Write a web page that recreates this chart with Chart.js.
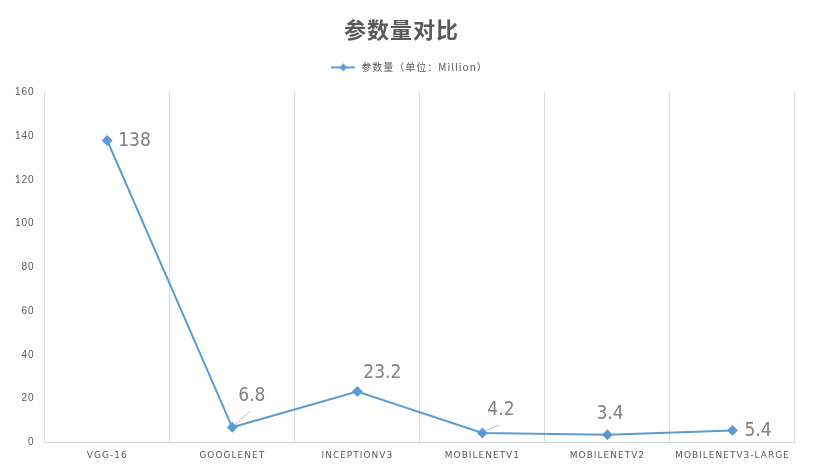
<!DOCTYPE html>
<html>
<head>
<meta charset="utf-8">
<script src="https://cdn.jsdelivr.net/npm/chart.js@4"></script>
<style>
  html, body { margin: 0; padding: 0; background: #fff; }
  #wrap { width: 813px; height: 469px; }
</style>
</head>
<body>
<div id="wrap"><canvas id="paramChart"></canvas></div>
<script>
// data
var models = ['VGG-16', 'GOOGLENET', 'INCEPTIONV3', 'MOBILENETV1', 'MOBILENETV2', 'MOBILENETV3-LARGE'];
var paramCounts = [138, 6.8, 23.2, 4.2, 3.4, 5.4];
var yTicks = [0, 20, 40, 60, 80, 100, 120, 140, 160];

var seriesName = '参数量（单位：Million）';
var lineColor = '#5B9BD5';
var textColor = '#595959';

// where each value label sits relative to its point (dx, dy, leader line)
var labelPlace = [
    {dx: 11, dy: 1, leader: false},
    {dx: 6, dy: -31, leader: true},
    {dx: 6, dy: -18, leader: false},
    {dx: 5, dy: -23, leader: true},
    {dx: -11, dy: -21, leader: false},
    {dx: 12, dy: 1, leader: false}
];

// legend icon: short line with a diamond
function legendIcon() {
    var c = document.createElement('canvas');
    c.width = 24; c.height = 10;
    var g = c.getContext('2d');
    g.strokeStyle = lineColor;
    g.lineWidth = 2;
    g.beginPath();
    g.moveTo(0, 5); g.lineTo(24, 5);
    g.stroke();
    g.fillStyle = lineColor;
    g.beginPath();
    g.moveTo(12, 1); g.lineTo(16, 5); g.lineTo(12, 9); g.lineTo(8, 5);
    g.closePath();
    g.fill();
    return c;
}
var icon = legendIcon();

var spacing = {
    id: 'spacing',
    beforeInit: function (chart) {
        var fit = chart.legend.fit;
        chart.legend.fit = function () {
            fit.call(this);
            this.height += 10;
        };
    },
    beforeDraw: function (chart) {
        chart.ctx.letterSpacing = '1px';
    },
    beforeDatasetsDraw: function (chart) {
        chart.ctx.letterSpacing = '0px';
    }
};

var valueLabels = {
    id: 'valueLabels',
    afterDatasetsDraw: function (chart) {
        var ctx = chart.ctx;
        var meta = chart.getDatasetMeta(0);
        ctx.save();
        ctx.letterSpacing = '0px';
        ctx.font = '19px "DejaVu Sans Condensed", "Liberation Sans Narrow", "DejaVu Sans", sans-serif';
        ctx.fillStyle = '#808080';
        ctx.textAlign = 'left';
        ctx.textBaseline = 'middle';
        meta.data.forEach(function (pt, i) {
            var p = labelPlace[i];
            var tx = pt.x + p.dx;
            var ty = pt.y + p.dy;
            if (p.leader) {
                ctx.strokeStyle = '#bfbfbf';
                ctx.lineWidth = 1;
                ctx.beginPath();
                ctx.moveTo(pt.x + 2, pt.y - 2);
                ctx.lineTo(tx + 12, ty + 15);
                ctx.stroke();
            }
            ctx.fillText(String(paramCounts[i]), tx, ty);
        });
        ctx.restore();
    }
};

var ctx = document.getElementById('paramChart');
new Chart(ctx, {
    type: 'line',
    data: {
        labels: models,
        datasets: [{
            label: seriesName,
            data: paramCounts,
            borderColor: lineColor,
            backgroundColor: lineColor,
            borderWidth: 2,
            pointStyle: 'rectRot',
            pointRadius: 4,
            pointHoverRadius: 4,
            tension: 0,
            fill: false
        }]
    },
    options: {
        responsive: true,
        maintainAspectRatio: false,
        animation: false,
        layout: {padding: {left: 8, right: 18, top: 13, bottom: 0}},
        plugins: {
            title: {
                display: true,
                text: '参数量对比',
                color: textColor,
                font: {size: 22, weight: 'bold', family: '"Noto Sans CJK SC", sans-serif'},
                padding: {top: 3, bottom: 10}
            },
            legend: {
                position: 'top',
                labels: {
                    color: textColor,
                    font: {size: 10, family: '"Noto Sans CJK SC", sans-serif'},
                    usePointStyle: true,
                    pointStyleWidth: 26,
                    boxHeight: 10,
                    padding: 10,
                    generateLabels: function (chart) {
                        return [{
                            text: seriesName,
                            pointStyle: icon,
                            fillStyle: lineColor,
                            strokeStyle: lineColor,
                            fontColor: textColor,
                            datasetIndex: 0,
                            hidden: false
                        }];
                    }
                }
            },
            tooltip: {enabled: false}
        },
        scales: {
            x: {
                offset: true,
                grid: {display: true, offset: true, color: '#d9d9d9', drawTicks: false},
                border: {display: true, color: '#d9d9d9'},
                ticks: {
                    color: textColor,
                    font: {size: 9, family: '"DejaVu Sans", sans-serif'},
                    padding: 8,
                    maxRotation: 0,
                    autoSkip: false
                }
            },
            y: {
                min: yTicks[0],
                max: yTicks[yTicks.length - 1],
                grid: {display: false, drawTicks: false},
                border: {display: false},
                afterBuildTicks: function (axis) {
                    axis.ticks = yTicks.map(function (v) { return {value: v}; });
                },
                ticks: {
                    color: textColor,
                    font: {size: 10, family: '"Liberation Sans", sans-serif'},
                    padding: 10
                }
            }
        }
    },
    plugins: [spacing, valueLabels]
});
</script>
</body>
</html>
